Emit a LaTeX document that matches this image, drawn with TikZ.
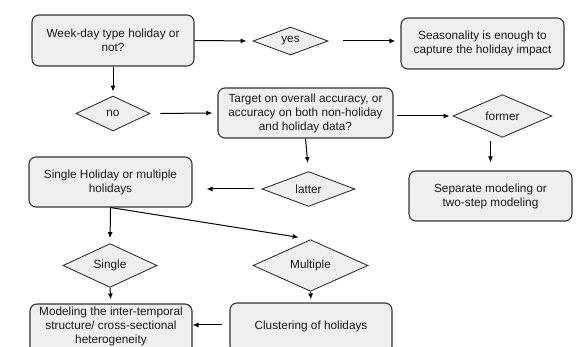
\documentclass[tikz,border=0pt]{standalone}
\usepackage{fontspec}
\setmainfont{Liberation Sans}
\usetikzlibrary{shapes.geometric,arrows.meta}
\definecolor{boxfill}{HTML}{EFEFEF}
\definecolor{edge}{HTML}{333333}
\definecolor{txt}{HTML}{1A1A1A}
\begin{document}
\begin{tikzpicture}[x=1pt,y=-1pt,
  every node/.style={font=\fontsize{11.8}{14}\selectfont, text=txt},
  rbox/.style={draw=edge, fill=boxfill, line width=1.1pt, rounded corners=7pt, align=center, inner sep=0pt},
  dia/.style={draw=edge, fill=boxfill, line width=0.9pt, diamond, inner sep=0pt},
  arr/.style={draw=black, line width=1pt, -{Latex[length=6pt,width=5pt]}}]
\useasboundingbox (0,0) rectangle (587,347);
\clip (0,0) rectangle (587,347);
% boxes
\node[rbox, minimum width=162pt, minimum height=51pt] (b1) at (113,40.5) {Week-day type holiday or\\not?};
\node[rbox, minimum width=163pt, minimum height=51pt] (seas) at (482.5,43.5) {Seasonality is enough to\\capture the holiday impact};
\node[rbox, minimum width=175pt, minimum height=50pt] (tgt) at (305.5,113) {Target on overall accuracy, or\\accuracy on both non-holiday\\and holiday data?};
\node[rbox, minimum width=163pt, minimum height=50pt] (sep) at (490.5,196) {Separate modeling or\\two-step modeling};
\node[rbox, minimum width=163pt, minimum height=50pt] (sh) at (110.5,182) {Single Holiday or multiple\\holidays};
\node[rbox, minimum width=162pt, minimum height=56pt] (mod) at (111,332) {};
\node[align=center] at (111,326) {Modeling the inter-temporal\\structure/ cross-sectional\\heterogeneity};
\node[rbox, minimum width=162pt, minimum height=50pt] (clu) at (311,328) {};
\node at (311,326) {Clustering of holidays};
% diamonds
\node[dia, minimum width=75pt, minimum height=28pt] (yes) at (290.5,41) {yes};
\node[dia, minimum width=74pt, minimum height=35pt] (no) at (113,113.5) {no};
\node[dia, minimum width=99pt, minimum height=35pt] (former) at (502.5,116) {former};
\node[dia, minimum width=93pt, minimum height=34pt] (latter) at (308.5,189) {latter};
\node[dia, minimum width=94pt, minimum height=35pt] (single) at (110,265.5) {Single};
\node[dia, minimum width=115pt, minimum height=35pt] (mult) at (310.5,265.5) {Multiple};
% connectors
\draw[arr, shorten >=6pt] (b1.east) -- (yes.west);
\draw[arr, shorten <=15pt, shorten >=5pt] (yes.east) -- (seas.west |- yes.east);
\draw[arr, shorten >=4pt] (b1.south) -- (no.north);
\draw[arr, shorten <=10pt, shorten >=5pt] (no.east) -- (tgt.west);
\draw[arr, shorten <=3pt, shorten >=3pt] (tgt.east |- former.west) -- (former.west);
\draw[arr, shorten <=3pt, shorten >=8pt] (former.south) ++(-12,0) coordinate (fs) -- (fs |- sep.north);
\draw[arr, shorten >=8pt] (tgt.south) -- (latter.north);
\draw[arr, shorten <=8pt, shorten >=14pt] (latter.west) -- (sh.east |- latter.west);
\draw[arr, shorten >=5pt] (sh.south) -- (single.north);
\draw[arr, shorten >=12pt] (sh.south) -- (mult.north);
\draw[arr, shorten >=4pt] (single.south) -- (mod.north);
\draw[arr, shorten >=3pt] (mult.south) -- (clu.north);
\draw[arr, shorten <=7pt] (clu.west |- 0,325) -- (mod.east |- 0,325);
\end{tikzpicture}
\end{document}
